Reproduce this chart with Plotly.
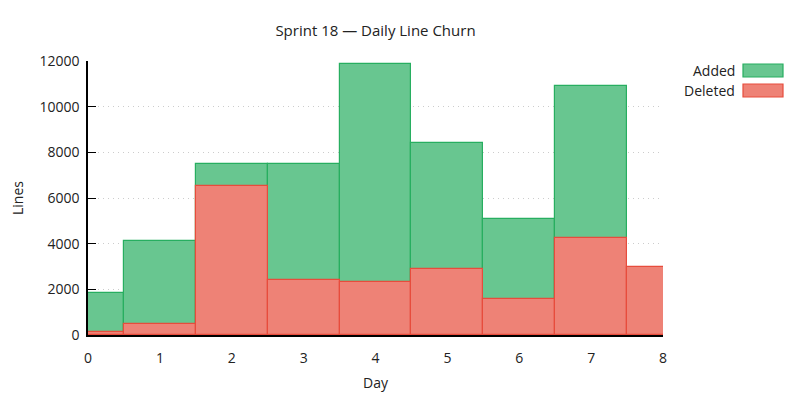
import plotly.graph_objects as go

# Sprint 18 line churn per day
days = [0, 1, 2, 3, 4, 5, 6, 7, 8]
added = [1820, 4100, 7510, 7500, 11880, 8390, 5060, 10920, 2100]
deleted = [145, 495, 6510, 2390, 2300, 2870, 1560, 4230, 2960]

series_names = ["Added", "Deleted"]
fill_colors = ["#68c690", "#ee8276"]
line_colors = ["#27ae60", "#e74c3c"]

FONT = "Open Sans"
FS = 14
TXT = "#222222"

# page body has an 8px margin, so the figure starts at (8, 8) in the window
OFF = 8
PL, PR, PT, PB = 88 - OFF, 663 - OFF, 61 - OFF, 335 - OFF  # plot area in figure px
W, H = 800, 400


def px_x(x):
    return (x - OFF - PL) / (PR - PL)


def px_y(y):
    return 1 - (y - OFF - PT) / (PB - PT)


fig = go.Figure()

# gnuplot style: bars overlap, deleted drawn on top of added
for name, vals, fc, lc in zip(series_names, [added, deleted], fill_colors, line_colors):
    fig.add_trace(go.Bar(
        x=days,
        y=vals,
        width=1,
        name=name,
        marker=dict(color=fc, line=dict(color=lc, width=1.2)),
        showlegend=False,
    ))

# legend drawn by hand: label right-aligned, swatch to its right
for i, (name, fc, lc) in enumerate(zip(series_names, fill_colors, line_colors)):
    y_top = 64 + i * 20
    fig.add_shape(
        type="rect", xref="paper", yref="paper",
        x0=px_x(743), x1=px_x(783),
        y0=px_y(y_top + 13), y1=px_y(y_top),
        fillcolor=fc, line=dict(color=lc, width=1.2),
    )
    fig.add_annotation(
        text=name, xref="paper", yref="paper",
        x=px_x(737), y=px_y(y_top + 6.5),
        xanchor="right", yanchor="middle", showarrow=False,
        font=dict(family=FONT, size=FS, color=TXT),
    )

fig.update_layout(
    width=W,
    height=H,
    barmode="overlay",
    bargap=0,
    plot_bgcolor="white",
    paper_bgcolor="white",
    margin=dict(l=PL, r=W - PR, t=PT, b=H - PB, autoexpand=False),
    font=dict(family=FONT, size=FS, color=TXT),
    title=dict(
        text="Sprint 18 — Daily Line Churn",
        x=((88 + 663) / 2 - OFF) / W, xanchor="center",
        y=1 - (31 - OFF) / H, yanchor="middle",
        font=dict(family=FONT, size=15, color=TXT),
    ),
    xaxis=dict(
        range=[0, 8],
        tickmode="linear", dtick=1,
        showgrid=False,
        showline=True, linecolor="black", linewidth=1.5,
        ticks="", ticklabelstandoff=9,
        tickfont=dict(family=FONT, size=FS, color=TXT),
        zeroline=False,
        title=dict(text="Day", standoff=13, font=dict(family=FONT, size=FS, color=TXT)),
    ),
    yaxis=dict(
        range=[0, 12000],
        tickmode="linear", dtick=2000, tickformat="d",
        showgrid=True, gridcolor="#cccccc", griddash="1px,4px", gridwidth=1,
        showline=True, linecolor="black", linewidth=1.5,
        ticks="inside", ticklen=8, tickcolor="black",
        ticklabelstandoff=4,
        tickfont=dict(family=FONT, size=FS, color=TXT),
        zeroline=False,
        title=dict(text="Lines", standoff=20, font=dict(family=FONT, size=FS, color=TXT)),
    ),
)

fig.write_html("out.html")
